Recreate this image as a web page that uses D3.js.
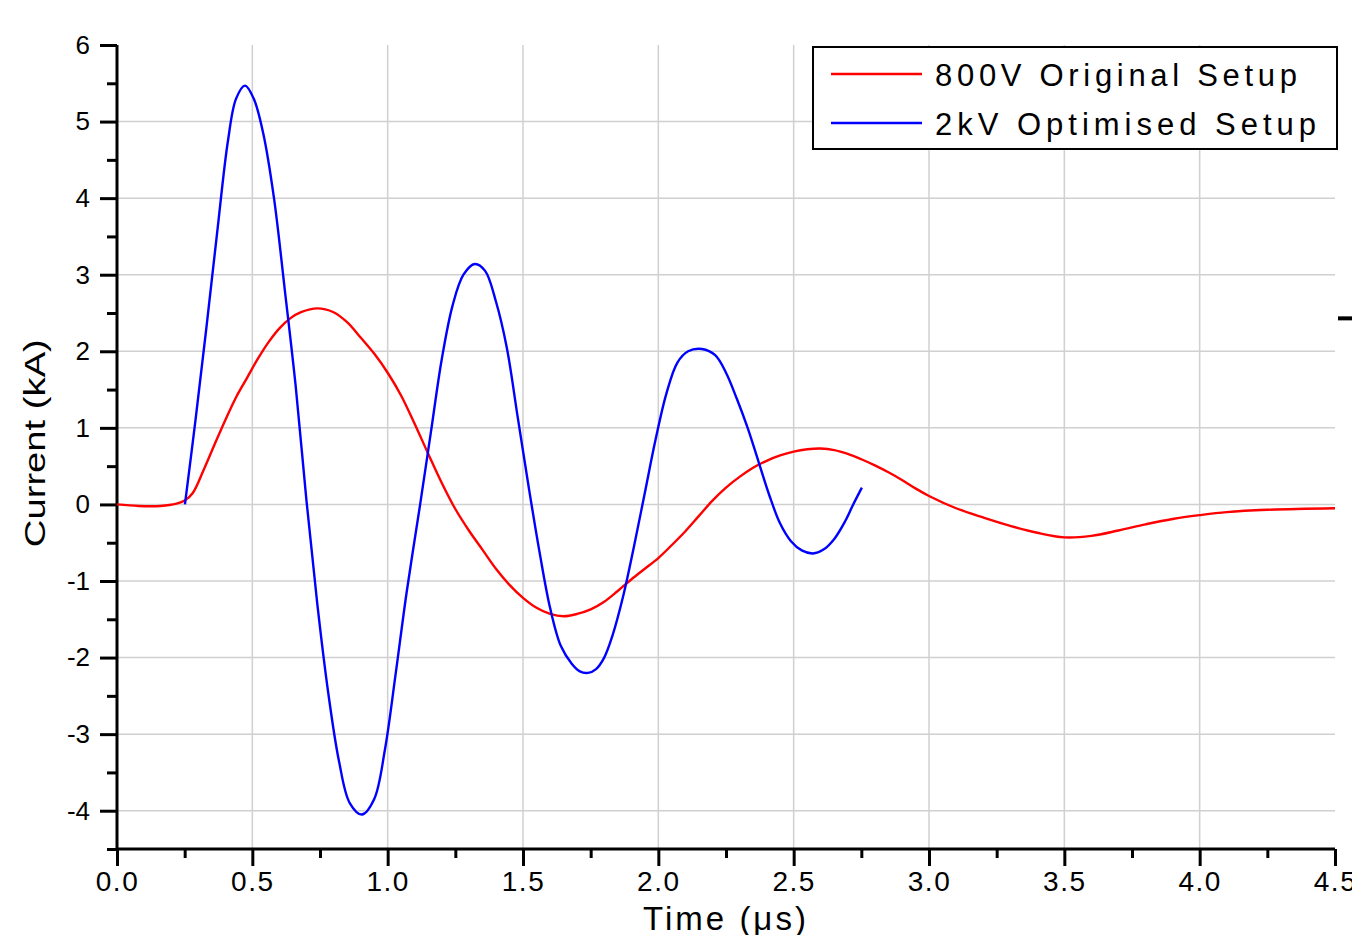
<!DOCTYPE html>
<html>
<head>
<meta charset="utf-8">
<script src="https://cdn.jsdelivr.net/npm/d3@7"></script>
<style>
  html, body { margin: 0; padding: 0; background: #fff; }
  svg { display: block; font-family: "Liberation Sans", Arial, sans-serif; }
</style>
</head>
<body>
<div id="app"></div>
<script>
// 800V original setup (time in µs, current in kA)
var originalT = [0.00, 0.08, 0.16, 0.22, 0.25, 0.28, 0.32, 0.36, 0.40, 0.44, 0.48, 0.52, 0.56, 0.60, 0.64, 0.68,
  0.74, 0.80, 0.85, 0.90, 0.95, 1.00, 1.05, 1.10, 1.15, 1.20, 1.25, 1.30, 1.35, 1.40, 1.45, 1.50, 1.55, 1.60,
  1.65, 1.70, 1.75, 1.80, 1.85, 1.90, 1.95, 2.00, 2.05, 2.10, 2.15, 2.20, 2.25, 2.30, 2.35, 2.40, 2.45, 2.50,
  2.55, 2.60, 2.65, 2.70, 2.75, 2.80, 2.85, 2.90, 2.95, 3.00, 3.10, 3.20, 3.30, 3.40, 3.50, 3.60, 3.70, 3.80,
  3.90, 4.00, 4.10, 4.25, 4.50];
var originalI = [0.00, -0.02, -0.02, 0.01, 0.05, 0.15, 0.45, 0.78, 1.10, 1.40, 1.65, 1.90, 2.12, 2.30, 2.43, 2.51,
  2.56, 2.51, 2.38, 2.18, 1.97, 1.72, 1.42, 1.05, 0.66, 0.28, -0.06, -0.34, -0.59, -0.84, -1.05, -1.22, -1.35, -1.43,
  -1.46, -1.43, -1.37, -1.27, -1.13, -0.98, -0.84, -0.70, -0.53, -0.35, -0.15, 0.05, 0.22, 0.36, 0.48, 0.57, 0.64, 0.69,
  0.72, 0.73, 0.71, 0.66, 0.59, 0.51, 0.42, 0.32, 0.21, 0.11, -0.05, -0.17, -0.28, -0.37, -0.43, -0.41, -0.34, -0.26,
  -0.19, -0.14, -0.10, -0.07, -0.05];

// 2kV optimised setup
var optimisedT = [0.251, 0.29, 0.33, 0.37, 0.41, 0.44, 0.473, 0.505, 0.54, 0.58, 0.62, 0.66, 0.70, 0.74, 0.78,
  0.82, 0.86, 0.905, 0.95, 0.99, 1.03, 1.07, 1.12, 1.16, 1.20, 1.24, 1.28, 1.322, 1.36, 1.40, 1.44, 1.48, 1.52,
  1.56, 1.60, 1.64, 1.68, 1.71, 1.74, 1.77, 1.80, 1.83, 1.87, 1.91, 1.95, 1.99, 2.03, 2.07, 2.11, 2.161, 2.21, 2.25, 2.29,
  2.33, 2.37, 2.41, 2.45, 2.49, 2.53, 2.571, 2.61, 2.65, 2.69, 2.72, 2.752];
var optimisedI = [0.00, 1.10, 2.30, 3.55, 4.75, 5.30, 5.47, 5.30, 4.85, 4.00, 2.80, 1.55, 0.05, -1.30, -2.45,
  -3.35, -3.90, -4.05, -3.85, -3.20, -2.20, -1.15, 0.00, 0.95, 1.90, 2.60, 3.00, 3.14, 3.05, 2.65, 2.05, 1.15, 0.25,
  -0.60, -1.35, -1.85, -2.08, -2.18, -2.20, -2.15, -2.00, -1.72, -1.20, -0.55, 0.15, 0.85, 1.45, 1.85, 2.00, 2.03, 1.95, 1.72, 1.38,
  1.00, 0.56, 0.12, -0.25, -0.48, -0.60, -0.64, -0.59, -0.45, -0.22, 0.00, 0.22];

var xTicks = [0, 0.5, 1, 1.5, 2, 2.5, 3, 3.5, 4, 4.5];
var yTicks = [-4, -3, -2, -1, 0, 1, 2, 3, 4, 5, 6];
var seriesNames = ["800V Original Setup", "2kV Optimised Setup"];
var seriesColors = ["#ff0000", "#0000ff"];

var width = 1352, height = 935;
var margin = { left: 117, right: 17, top: 45, bottom: 86 };

var svg = d3.select("#app").append("svg")
  .attr("width", width)
  .attr("height", height);

var x = d3.scaleLinear().domain([0, 4.5]).range([margin.left, width - margin.right]);
var y = d3.scaleLinear().domain([-4.5, 6]).range([height - margin.bottom, margin.top]);

// grid lines
svg.append("g").selectAll("line")
  .data(xTicks.filter(d => d > 0 && d < 4.5))
  .enter().append("line")
  .attr("x1", d => x(d)).attr("x2", d => x(d))
  .attr("y1", y(6)).attr("y2", y(-4.5))
  .attr("stroke", "#d0d0d0").attr("stroke-width", 1.5);

svg.append("g").selectAll("line")
  .data(yTicks.filter(d => d < 6))
  .enter().append("line")
  .attr("x1", x(0)).attr("x2", x(4.5))
  .attr("y1", d => y(d)).attr("y2", d => y(d))
  .attr("stroke", "#d0d0d0").attr("stroke-width", 1.5);

// axes
var xAxis = svg.append("g")
  .attr("transform", "translate(0," + y(-4.5) + ")")
  .call(d3.axisBottom(x).tickValues(xTicks).tickSize(17).tickPadding(5).tickFormat(d3.format(".1f")));
svg.append("g")
  .attr("transform", "translate(0," + y(-4.5) + ")")
  .call(d3.axisBottom(x).tickValues(d3.range(0.25, 4.5, 0.5)).tickSize(9).tickFormat(""))
  .select(".domain").remove();

var yAxis = svg.append("g")
  .attr("transform", "translate(" + x(0) + ",0)")
  .call(d3.axisLeft(y).tickValues(yTicks).tickSize(17).tickPadding(10).tickFormat(d => String(d)));
svg.append("g")
  .attr("transform", "translate(" + x(0) + ",0)")
  .call(d3.axisLeft(y).tickValues(d3.range(-4.5, 6, 1)).tickSize(10).tickFormat(""))
  .select(".domain").remove();

svg.selectAll(".domain").attr("stroke", "#000").attr("stroke-width", 3);
svg.selectAll(".tick line").attr("stroke", "#000").attr("stroke-width", 3);
xAxis.select(".domain").attr("d", "M" + x(0) + ",0H" + x(4.5));
yAxis.select(".domain").attr("d", "M0," + y(6) + "V" + y(-4.5));

xAxis.selectAll("text")
  .attr("font-size", 28)
  .attr("fill", "#000")
  .attr("letter-spacing", 1.5)
  .attr("font-family", "Liberation Sans, Arial, sans-serif");
yAxis.selectAll("text")
  .attr("font-size", 26)
  .attr("fill", "#000")
  .attr("font-family", "Liberation Sans, Arial, sans-serif");

// axis titles
svg.append("text")
  .attr("x", (x(0) + x(4.5)) / 2)
  .attr("y", 930)
  .attr("text-anchor", "middle")
  .attr("font-size", 33)
  .attr("letter-spacing", 3)
  .text("Time (μs)");

svg.append("text")
  .attr("transform", "translate(45," + (y(0.8)) + ") rotate(-90)")
  .attr("text-anchor", "middle")
  .attr("font-size", 30)
  .attr("textLength", 208)
  .attr("lengthAdjust", "spacingAndGlyphs")
  .text("Current (kA)");

// curves
var line = d3.line()
  .x(d => x(d[0]))
  .y(d => y(d[1]))
  .curve(d3.curveCatmullRom.alpha(0.5));

var series = [
  d3.zip(originalT, originalI),
  d3.zip(optimisedT, optimisedI)
];

svg.append("g").selectAll("path")
  .data(series)
  .enter().append("path")
  .attr("d", line)
  .attr("fill", "none")
  .attr("stroke", (d, i) => seriesColors[i])
  .attr("stroke-width", 2.4)
  .attr("stroke-linejoin", "round");

// stray mark at right edge
svg.append("rect")
  .attr("x", x(4.5) + 3)
  .attr("y", y(2.43) - 2)
  .attr("width", 14)
  .attr("height", 4)
  .attr("fill", "#000");

// legend
var legend = svg.append("g");
legend.append("rect")
  .attr("x", 813).attr("y", 47)
  .attr("width", 524).attr("height", 102)
  .attr("fill", "#fff")
  .attr("stroke", "#000")
  .attr("stroke-width", 2);

var item = legend.selectAll(".item")
  .data(seriesNames)
  .enter().append("g")
  .attr("class", "item")
  .attr("transform", (d, i) => "translate(0," + (74 + i * 49) + ")");

item.append("line")
  .attr("x1", 831).attr("x2", 922)
  .attr("stroke", (d, i) => seriesColors[i])
  .attr("stroke-width", 2.4);

item.append("text")
  .attr("x", 935)
  .attr("y", 12)
  .attr("font-size", 31)
  .attr("textLength", (d, i) => i === 0 ? 362 : 381)
  .attr("lengthAdjust", "spacing")
  .text(d => d);
</script>
</body>
</html>
